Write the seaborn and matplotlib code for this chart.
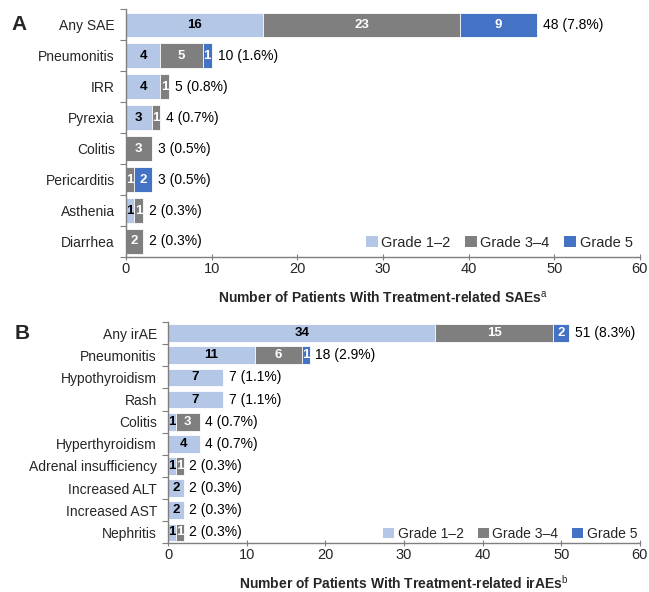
import matplotlib
matplotlib.use("Agg")
import matplotlib.pyplot as plt
from matplotlib.patches import Patch
import numpy as np
import pandas as pd
import seaborn as sns

# Panel A: treatment-related serious adverse events
sae_events = ["Any SAE", "Pneumonitis", "IRR", "Pyrexia", "Colitis",
              "Pericarditis", "Asthenia", "Diarrhea"]
sae_g12 = [16, 4, 4, 3, 0, 0, 1, 0]
sae_g34 = [23, 5, 1, 1, 3, 1, 1, 2]
sae_g5 = [9, 1, 0, 0, 0, 2, 0, 0]
sae_totals = ["48 (7.8%)", "10 (1.6%)", "5 (0.8%)", "4 (0.7%)", "3 (0.5%)",
              "3 (0.5%)", "2 (0.3%)", "2 (0.3%)"]

# Panel B: treatment-related immune-related adverse events
irae_events = ["Any irAE", "Pneumonitis", "Hypothyroidism", "Rash", "Colitis",
               "Hyperthyroidism", "Adrenal insufficiency", "Increased ALT",
               "Increased AST", "Nephritis"]
irae_g12 = [34, 11, 7, 7, 1, 4, 1, 2, 2, 1]
irae_g34 = [15, 6, 0, 0, 3, 0, 1, 0, 0, 1]
irae_g5 = [2, 1, 0, 0, 0, 0, 0, 0, 0, 0]
irae_totals = ["51 (8.3%)", "18 (2.9%)", "7 (1.1%)", "7 (1.1%)", "4 (0.7%)",
               "4 (0.7%)", "2 (0.3%)", "2 (0.3%)", "2 (0.3%)", "2 (0.3%)"]

grade_labels = ["Grade 1\u20132", "Grade 3\u20134", "Grade 5"]
grade_colors = ["#B4C7E7", "#7F7F7F", "#4472C4"]
text_colors = ["black", "white", "white"]

sns.set_theme(style="white")
plt.rcParams["font.family"] = ["Liberation Sans", "DejaVu Sans"]
plt.rcParams["mathtext.fontset"] = "custom"
plt.rcParams["mathtext.rm"] = "Liberation Sans"

fig = plt.figure(figsize=(6.49, 5.92), dpi=100)
ax_a = fig.add_axes([0.194, 0.566, 0.792, 0.418])
ax_b = fig.add_axes([0.259, 0.082, 0.727, 0.374])


def stacked_panel(ax, events, g12, g34, g5, totals, xlabel, letter, letter_x,
                  legend_pad, col_space, legend_size, label_pad):
    df = pd.DataFrame({"event": events, "g12": g12, "g34": g34, "g5": g5})
    df["c2"] = df["g12"] + df["g34"]
    df["c3"] = df["c2"] + df["g5"]
    # Overlay cumulative bars, longest first, to form stacked segments
    for col, color in zip(["c3", "c2", "g12"], grade_colors[::-1]):
        sns.barplot(data=df, x=col, y="event", order=events, color=color,
                    width=0.8, orient="h", ax=ax, edgecolor="white",
                    linewidth=0.6, saturation=1)
    n = len(events)
    for i in range(n):
        left = 0
        for k, col in enumerate(["g12", "g34", "g5"]):
            v = df[col].iloc[i]
            if v > 0:
                ax.text(left + v / 2, i, str(v), ha="center", va="center",
                        color=text_colors[k], fontsize=9.5, fontweight="bold")
            left += v
        ax.text(df["c3"].iloc[i] + 0.7, i, totals[i], ha="left", va="center",
                fontsize=10, color="black")
    ax.set_xlim(0, 60)
    ax.set_ylim(n - 0.5, -0.5)
    ax.set_xticks(np.arange(0, 61, 10))
    ax.set_yticks(range(n))
    ax.set_yticklabels(events, fontsize=10)
    ax.set_yticks(np.arange(-0.5, n, 1), minor=True)
    ax.tick_params(axis="y", which="major", length=0, pad=8)
    ax.tick_params(axis="y", which="minor", length=4, width=0.8,
                   color="#7F7F7F", left=True)
    ax.tick_params(axis="x", length=5, width=0.8, color="#7F7F7F",
                   direction="inout", bottom=True, labelsize=10.5, pad=1)
    ax.set_ylabel("")
    ax.set_xlabel(xlabel, fontsize=10, fontweight="bold", labelpad=label_pad)
    for side in ["top", "right"]:
        ax.spines[side].set_visible(False)
    for side in ["left", "bottom"]:
        ax.spines[side].set_color("#7F7F7F")
        ax.spines[side].set_linewidth(1.0)
    handles = [Patch(facecolor=c, edgecolor="none") for c in grade_colors]
    ax.legend(handles, grade_labels, loc="lower right", ncol=3,
              frameon=False, fontsize=legend_size, handlelength=0.8,
              handleheight=0.8, handletextpad=0.25, columnspacing=col_space,
              borderaxespad=legend_pad, borderpad=0.2)
    ax.text(letter_x, 0, letter, transform=ax.get_yaxis_transform(),
            fontsize=15, fontweight="heavy", ha="left", va="center")


stacked_panel(ax_a, sae_events, sae_g12, sae_g34, sae_g5, sae_totals,
              "Number of Patients With Treatment-related SAEs$^{\\mathrm{a}}$",
              "A", -0.222, 0.3, 1.0, 10.5, 10)
stacked_panel(ax_b, irae_events, irae_g12, irae_g34, irae_g5, irae_totals,
              "Number of Patients With Treatment-related irAEs$^{\\mathrm{b}}$",
              "B", -0.326, 0.0, 1.0, 10, 8)

fig.savefig("out.png", dpi=100)
